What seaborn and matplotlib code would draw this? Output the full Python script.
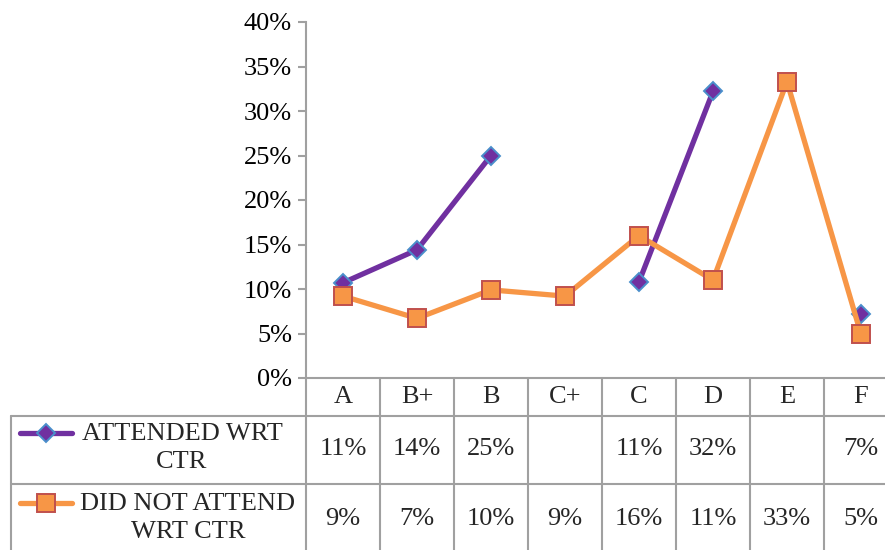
import numpy as np
import pandas as pd
import matplotlib
matplotlib.use("Agg")
import matplotlib.pyplot as plt
import seaborn as sns

categories = ["A", "B+", "B", "C+", "C", "D", "E", "F"]
attended = [10.7, 14.4, 25.0, np.nan, 10.8, 32.2, np.nan, 7.2]
not_attended = [9.2, 6.7, 9.9, 9.2, 16.0, 11.0, 33.3, 4.9]
attended_labels = ["11%", "14%", "25%", "", "11%", "32%", "", "7%"]
not_attended_labels = ["9%", "7%", "10%", "9%", "16%", "11%", "33%", "5%"]
series_names = ["ATTENDED WRT\nCTR", "DID NOT ATTEND\nWRT CTR"]
yticks = [0, 5, 10, 15, 20, 25, 30, 35, 40]

sns.set_theme(style="white")
plt.rcParams["font.family"] = ["Liberation Serif", "DejaVu Serif"]

W, H = 885, 550
fig = plt.figure(figsize=(W / 100, H / 100), dpi=100)

def fx(px):
    return px / W

def fy(py):
    return 1 - py / H

col_w = 74
x0 = 306
ax = fig.add_axes([fx(x0), fy(378), fx(8 * col_w), (378 - 22) / H])


def segments(vals):
    rows = []
    seg = 0
    prev_nan = True
    for i, v in enumerate(vals):
        if np.isnan(v):
            prev_nan = True
            continue
        if prev_nan:
            seg += 1
            prev_nan = False
        rows.append({"pos": i, "val": v, "seg": seg})
    return pd.DataFrame(rows)


PURPLE = "#7030A0"
ORANGE = "#F79646"

df_na = segments(not_attended)
df_a = segments(attended)

sns.lineplot(data=df_a, x="pos", y="val", units="seg", estimator=None,
             color=PURPLE, lw=3.8, marker="D", markersize=9.5,
             markerfacecolor=PURPLE, markeredgecolor="#4A8FCB",
             markeredgewidth=1.4, ax=ax, zorder=3)
sns.lineplot(data=df_na, x="pos", y="val", units="seg", estimator=None,
             color=ORANGE, lw=3.8, marker="s", markersize=13.5,
             markerfacecolor=ORANGE, markeredgecolor="#C0504D",
             markeredgewidth=1.4, ax=ax, zorder=4)

ax.set_xlim(-0.5, 7.5)
ax.set_ylim(0, 40)
ax.set_yticks(yticks)
ax.set_yticklabels([f"{t}%" for t in yticks], fontsize=19)
ax.set_xticks([])
ax.set_xlabel("")
ax.set_ylabel("")
for s in ["top", "right"]:
    ax.spines[s].set_visible(False)
GRID = "#A0A0A0"
ax.spines["left"].set_color(GRID)
ax.spines["left"].set_linewidth(1.5)
ax.spines["bottom"].set_color(GRID)
ax.spines["bottom"].set_linewidth(1.5)
ax.tick_params(axis="y", which="major", left=True, length=6, width=1.5,
               color=GRID, pad=4, labelcolor="black")
ax.patch.set_alpha(0)

# Data table
lw = 1.5
def hline(y, xa, xb):
    fig.add_artist(plt.Line2D([fx(xa), fx(xb)], [fy(y), fy(y)], color=GRID, lw=lw))

def vline(x, ya, yb):
    fig.add_artist(plt.Line2D([fx(x), fx(x)], [fy(ya), fy(yb)], color=GRID, lw=lw))

hline(416, 11, W + 20)
hline(484, 11, W + 20)
vline(11, 416, H + 10)
for i in range(9):
    vline(x0 + i * col_w, 378, H + 10)

for i, c in enumerate(categories):
    cx = fx(x0 + (i + 0.5) * col_w)
    fig.text(cx, fy(397), c, ha="center", va="center", fontsize=19)
    fig.text(cx, fy(449), attended_labels[i], ha="center", va="center", fontsize=19)
    fig.text(cx, fy(519), not_attended_labels[i], ha="center", va="center", fontsize=19)

# legend keys
fig.add_artist(plt.Line2D([fx(20), fx(72)], [fy(433), fy(433)], color=PURPLE, lw=3.8,
                          solid_capstyle="round"))
fig.add_artist(plt.Line2D([fx(46)], [fy(433)], marker="D", markersize=9.5,
                          markerfacecolor=PURPLE, markeredgecolor="#4A8FCB",
                          markeredgewidth=1.4, lw=0))
fig.add_artist(plt.Line2D([fx(20), fx(72)], [fy(503), fy(503)], color=ORANGE, lw=3.8,
                          solid_capstyle="round"))
fig.add_artist(plt.Line2D([fx(46)], [fy(503)], marker="s", markersize=13.5,
                          markerfacecolor=ORANGE, markeredgecolor="#C0504D",
                          markeredgewidth=1.4, lw=0))

fig.text(fx(182), fy(448), series_names[0], ha="center", va="center", fontsize=19,
         multialignment="center", linespacing=1.4)
fig.text(fx(188), fy(518), series_names[1], ha="center", va="center", fontsize=19,
         multialignment="center", linespacing=1.4)

fig.savefig("out.png", dpi=100)
